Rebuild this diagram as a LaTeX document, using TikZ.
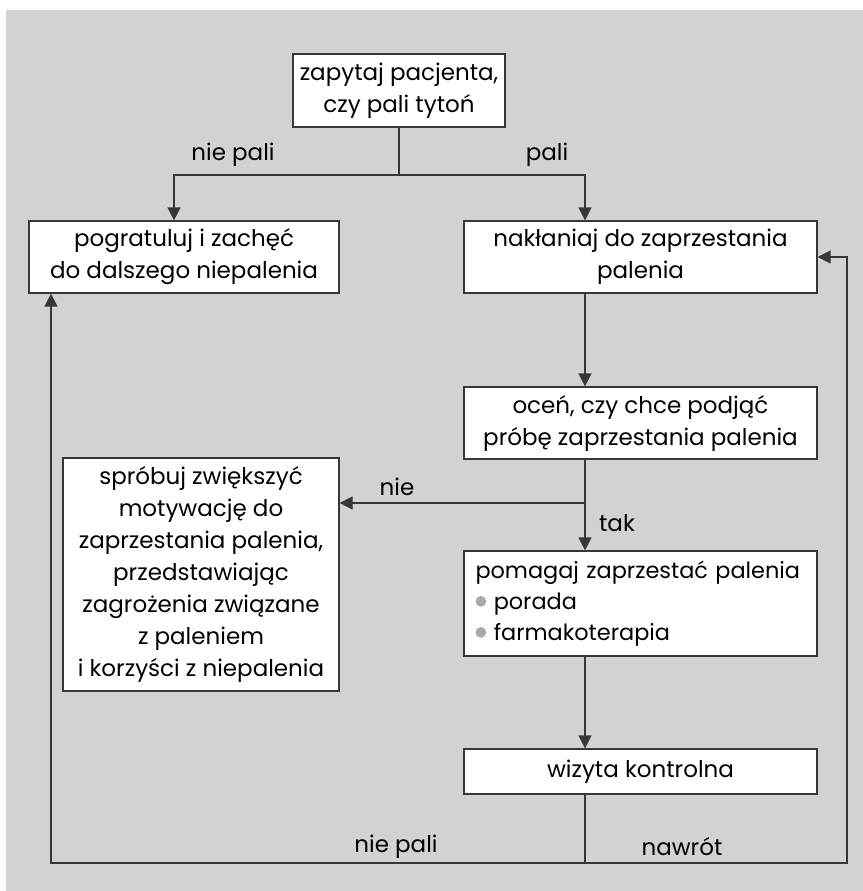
\documentclass[tikz,border=0pt]{standalone}
\usepackage{fontspec}
\setmainfont{Poppins}
\usepackage{tikz}
\usetikzlibrary{arrows.meta}
\usetikzlibrary{positioning}
\definecolor{bggray}{RGB}{209,210,212}
\definecolor{dotgray}{RGB}{167,169,172}
\definecolor{linegray}{RGB}{55,55,55}
\newcommand{\dotitem}{\tikz[baseline=-0.65ex]\fill[dotgray] (0,0) circle (2.7pt);\ }

\begin{document}
\begin{tikzpicture}[
            x=0.5pt, y=-0.5pt,
            box/.style={draw=linegray, fill=white, line width=0.6pt, inner sep=0pt, align=center, font=\fontsize{11.5}{16}\selectfont},
            lbl/.style={font=\fontsize{11.5}{13}\selectfont, inner sep=0pt},
            conn/.style={draw=linegray, line width=0.6pt},
            arr/.style={conn, -{Triangle[length=6.5pt, width=6.5pt]}}
        ]
            \fill[white] (0,0) rectangle (863,891);
            \fill[bggray] (6,10) rectangle (863,891);

            \node [box, minimum width=106pt, minimum height=36.5pt] (ask) at (399,90.5) {zapytaj pacjenta,\\czy pali tytoń};
            \node [box, minimum width=155pt, minimum height=36pt] (praise) at (184,257) {pogratuluj i zachęć\\do dalszego niepalenia};
            \node [box, minimum width=176.5pt, minimum height=36pt] (urge) at (640.5,257) {nakłaniaj do zaprzestania\\palenia};
            \node [box, minimum width=176.5pt, minimum height=36pt] (assess) at (640.5,423) {oceń, czy chce podjąć\\próbę zaprzestania palenia};
            \node [box, minimum width=138pt, minimum height=116.5pt] (motivate) at (201,574.5) {spróbuj zwiększyć\\motywację do\\zaprzestania palenia,\\przedstawiając\\zagrożenia związane\\z paleniem\\i korzyści z niepalenia};
            \node [box, text width=165pt, inner xsep=5.75pt, minimum height=52.5pt, align=left, font=\fontsize{11.2}{15.5}\selectfont] (help) at (640.5,603.5) {\mbox{pomagaj zaprzestać palenia}\\\dotitem porada\\\dotitem farmakoterapia};
            \node [box, minimum width=176.5pt, minimum height=22.5pt] (visit) at (640.5,771.5) {wizyta kontrolna};

            \coordinate (split) at (399,175);
            \coordinate (ask2) at (585,503);
            \coordinate (back) at (585,863);
            \coordinate (left) at (51,863);
            \coordinate (right) at (847,863);

            \draw [conn] (ask) -- (split);
            \draw [arr] (split) -| (praise.north -| 174,0);
            \draw [arr] (split) -| (urge.north -| 585,0);
            \draw [arr] (urge.south -| 585,0) -- (assess.north -| 585,0);
            \draw [conn] (assess.south -| 585,0) -- (ask2);
            \draw [arr] (ask2) -- (motivate.east |- ask2);
            \draw [arr] (ask2) -- (help.north -| 585,0);
            \draw [arr] (help.south -| 585,0) -- (visit.north -| 585,0);
            \draw [conn] (visit.south -| 585,0) -- (back);
            \draw [arr] (back) -- (left) -- (praise.south -| left);
            \draw [arr] (back) -- (right) |- (urge.east);

            \node [lbl] (nopali) at (233,155) {nie pali};
            \node [lbl] (pali) at (547,155) {pali};
            \node [lbl] (nie) at (397,487) {nie};
            \node [lbl] (tak) at (617,523) {tak};
            \node [lbl] (nopali2) at (396,847) {nie pali};
            \node [lbl] (relapse) at (682,847) {nawrót};
        \end{tikzpicture}
\end{document}
